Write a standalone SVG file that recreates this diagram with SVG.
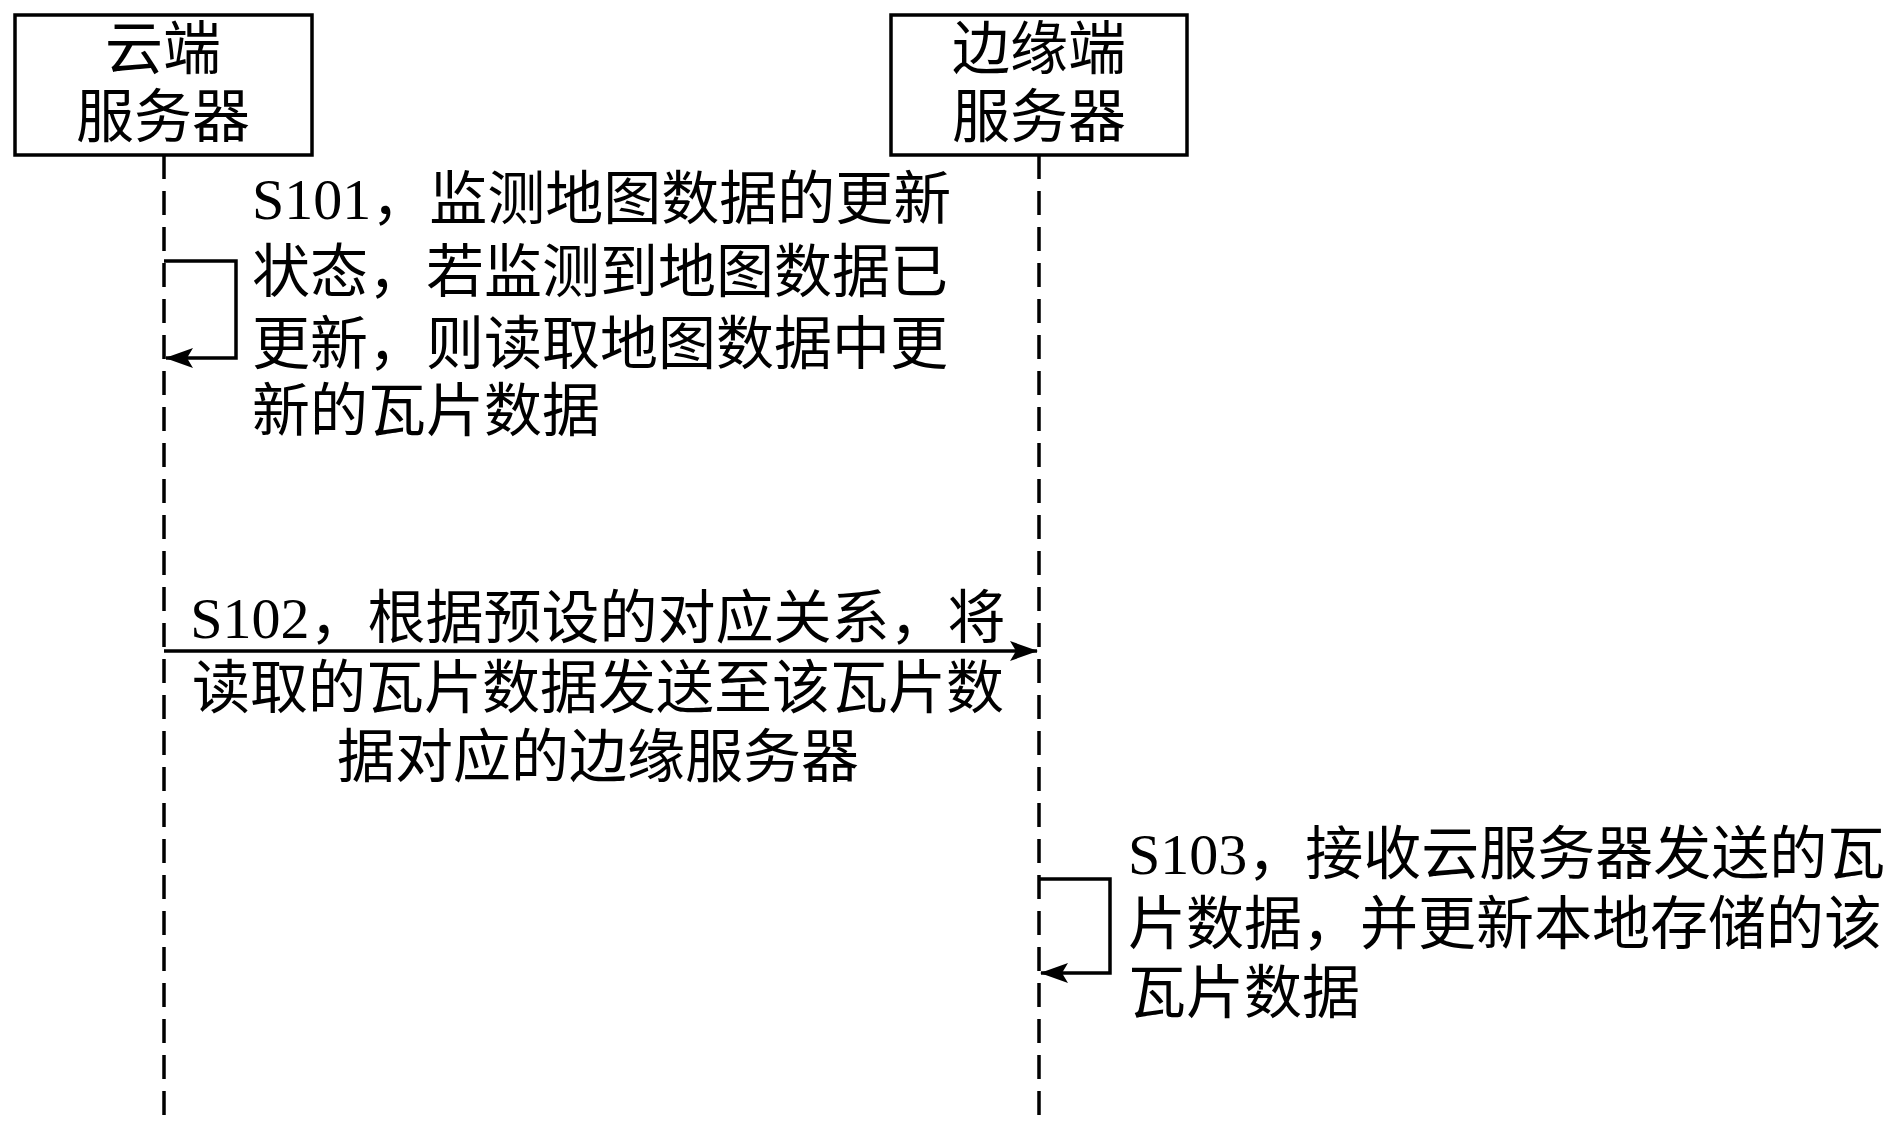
<svg xmlns="http://www.w3.org/2000/svg" width="1898" height="1136" viewBox="0 0 1898 1136">
<defs>
<marker id="ah" viewBox="0 0 28 20" refX="27" refY="10" markerWidth="28" markerHeight="20" markerUnits="userSpaceOnUse" orient="auto"><path d="M0,0 L28,10 L0,20 L6,10 Z" fill="#000"/></marker>
<style>
.box{fill:#fff;stroke:#000;stroke-width:3.5}
.life{stroke:#000;stroke-width:3.5;stroke-dasharray:24,12;fill:none}
.msg{stroke:#000;stroke-width:3.5;fill:none;marker-end:url(#ah)}
text{font-family:"Liberation Serif","Noto Sans CJK SC",serif;fill:#000}
.h{font-size:58px;text-anchor:middle}
.t{font-size:58px}
.c{font-size:58px;text-anchor:middle}
</style>
</defs>
<rect width="1898" height="1136" fill="#fff"/>
<g id="cloud"><rect class="box" x="15" y="15" width="297" height="140"/><text class="h" x="163" y="69">云端</text><text class="h" x="163" y="137">服务器</text></g>
<g id="edge"><rect class="box" x="891" y="15" width="296" height="140"/><text class="h" x="1039" y="69">边缘端</text><text class="h" x="1039" y="137">服务器</text></g>
<g id="connectors">
<line class="life" x1="164" y1="155" x2="164" y2="1125"/>
<line class="life" x1="1039" y1="155" x2="1039" y2="1125"/>
<polyline class="msg" points="164,261 236,261 236,358 166,358"/>
<line class="msg" x1="164" y1="651" x2="1037" y2="651"/>
<polyline class="msg" points="1039,879 1110,879 1110,973 1041,973"/>
</g>
<g id="s101"><text class="t" x="252" y="219">S101，监测地图数据的更新</text><text class="t" x="252" y="292">状态，若监测到地图数据已</text><text class="t" x="252" y="364">更新，则读取地图数据中更</text><text class="t" x="252" y="431">新的瓦片数据</text></g>
<g id="s102"><text class="c" x="598" y="638">S102，根据预设的对应关系，将</text><text class="c" x="598" y="708">读取的瓦片数据发送至该瓦片数</text><text class="c" x="598" y="777">据对应的边缘服务器</text></g>
<g id="s103"><text class="t" x="1128" y="874">S103，接收云服务器发送的瓦</text><text class="t" x="1128" y="944">片数据，并更新本地存储的该</text><text class="t" x="1128" y="1013">瓦片数据</text></g>
</svg>
